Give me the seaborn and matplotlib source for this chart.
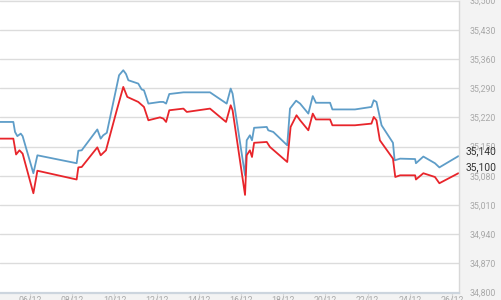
import matplotlib
matplotlib.use("Agg")
import matplotlib.pyplot as plt
import seaborn as sns
import pandas as pd

# ---- data (day of December, index value) ----
blue_day = [4.55, 5.21, 5.29, 5.40, 5.56, 5.65, 6.16, 6.35, 8.21, 8.29, 8.45, 9.19, 9.35, 9.47, 9.64,
            10.22, 10.42, 10.55, 10.66, 11.13, 11.29, 11.40, 11.48, 11.61, 12.16, 12.32, 12.45, 12.60,
            13.27, 14.53, 15.32, 15.51, 15.60, 16.19, 16.27, 16.42, 16.52, 16.62, 17.22, 17.29, 17.53,
            18.19, 18.32, 18.61, 18.80, 19.19, 19.40, 19.55, 20.22, 20.33, 21.40, 22.18, 22.29, 22.42,
            22.66, 23.20, 23.28, 23.54, 24.25, 24.29, 24.64, 25.19, 25.40, 26.30]
blue_val = [35209, 35209, 35185, 35175, 35181, 35175, 35086, 35129, 35110, 35140, 35141, 35191, 35169, 35177, 35183,
            35321, 35333, 35324, 35309, 35301, 35287, 35285, 35273, 35253, 35257, 35257, 35253, 35276,
            35280, 35280, 35253, 35289, 35277, 35081, 35165, 35177, 35165, 35195, 35197, 35189, 35185,
            35153, 35241, 35260, 35253, 35229, 35271, 35255, 35255, 35239, 35239, 35245, 35261, 35257,
            35201, 35159, 35117, 35121, 35120, 35110, 35126, 35110, 35100, 35127]

red_day = [4.55, 5.21, 5.34, 5.50, 5.65, 6.16, 6.35, 8.21, 8.29, 8.45, 9.19, 9.35, 9.60, 10.10,
           10.42, 10.61, 11.13, 11.40, 11.61, 12.16, 12.32, 12.45, 12.60, 13.27, 13.43, 14.53, 15.29,
           15.51, 15.60, 16.19, 16.27, 16.42, 16.52, 16.62, 17.22, 17.37, 18.19, 18.35, 18.63, 18.80,
           19.19, 19.40, 19.55, 20.22, 20.33, 21.40, 22.18, 22.29, 22.42, 22.58, 23.20, 23.31, 23.54,
           24.25, 24.29, 24.64, 25.19, 25.40, 26.30]
red_val = [35169, 35169, 35131, 35141, 35133, 35038, 35092, 35071, 35100, 35101, 35148, 35129, 35141, 35235,
           35293, 35269, 35257, 35245, 35213, 35220, 35217, 35209, 35237, 35241, 35233, 35241, 35209,
           35249, 35237, 35034, 35129, 35141, 35125, 35159, 35161, 35149, 35113, 35197, 35225, 35213,
           35189, 35229, 35215, 35215, 35201, 35201, 35205, 35221, 35213, 35165, 35121, 35077, 35081,
           35081, 35071, 35086, 35077, 35062, 35086]

x_ticks = [6, 8, 10, 12, 14, 16, 18, 20, 22, 24, 26]
x_labels = ["06/12", "08/12", "10/12", "12/12", "14/12", "16/12", "18/12", "20/12", "22/12", "24/12", "26/12"]
y_ticks = [34800, 34870, 34940, 35010, 35080, 35150, 35220, 35290, 35360, 35430, 35500]
last_labels = [(35140, "35,140"), (35100, "35,100")]

# ---- style ----
sns.set_theme(style="white")
plt.rcParams["font.family"] = ["Roboto", "DejaVu Sans"]

fig = plt.figure(figsize=(5.01, 3.00), dpi=100, facecolor="#f3f3f3")
ax = fig.add_axes([0.0, 0.025, 459 / 501, 0.973])
ax.set_facecolor("white")

blue_df = pd.DataFrame({"day": blue_day, "value": blue_val})
red_df = pd.DataFrame({"day": red_day, "value": red_val})
sns.lineplot(data=blue_df, x="day", y="value", ax=ax, color="#5e9dc8", lw=1.3,
             sort=False, estimator=None)
sns.lineplot(data=red_df, x="day", y="value", ax=ax, color="#e8252b", lw=1.3,
             sort=False, estimator=None)

ax.set_xlim(4.578, 26.33)
ax.set_ylim(34800, 35500)
ax.set_xlabel("")
ax.set_ylabel("")

ax.set_yticks(y_ticks)
ax.set_yticklabels([f"{v:,}" for v in y_ticks])
ax.yaxis.tick_right()
ax.tick_params(axis="y", length=0, pad=7.5, labelsize=6.3, labelcolor="#a8a8a8")
ax.grid(axis="y", color="#dcdcdc", lw=1.0)
ax.set_axisbelow(True)

ax.set_xticks(x_ticks)
ax.set_xticklabels(x_labels)
ax.tick_params(axis="x", bottom=True, direction="out", length=6, width=0.8, color="#d8d8d8",
               pad=-3.2, labelsize=6.3, labelcolor="#a8a8a8")

for side in ["top", "left"]:
    ax.spines[side].set_visible(False)
ax.spines["right"].set_color("#d8d8d8")
ax.spines["right"].set_linewidth(1.0)
ax.spines["bottom"].set_color("#ccd5de")
ax.spines["bottom"].set_linewidth(1.6)

for val, txt in last_labels:
    ax.annotate(txt, xy=(1.0, val), xycoords=("axes fraction", "data"),
                xytext=(5, 0), textcoords="offset points", ha="left", va="center",
                fontsize=7.4, color="#333333", annotation_clip=False)

fig.savefig("out.png", dpi=100, facecolor=fig.get_facecolor())
